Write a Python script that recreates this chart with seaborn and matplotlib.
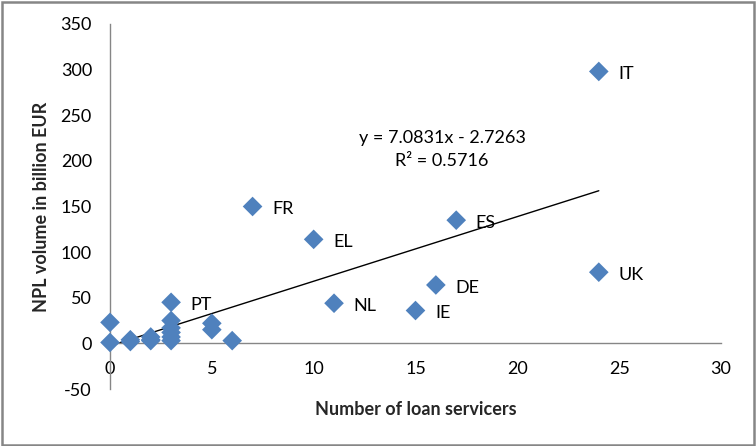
import numpy as np
import pandas as pd
import matplotlib
matplotlib.use("Agg")
import matplotlib.pyplot as plt
import matplotlib.patches as mpatches
import seaborn as sns

# number of loan servicers per country / NPL volume (bn EUR)
servicers = [0, 0, 1, 1, 2, 2, 2, 3, 3, 3, 3, 3, 3, 5, 5, 6,
             7, 10, 11, 15, 16, 17, 24, 24]
npl_volume = [23, 1, 4, 2, 7, 4, 3, 45, 25, 17, 12, 7, 3, 22, 15, 3,
              150, 114, 44, 36, 64, 135, 78, 298]
labels = ["", "", "", "", "", "", "", "PT", "", "", "", "", "", "", "", "",
          "FR", "EL", "NL", "IE", "DE", "ES", "UK", "IT"]

# linear trend shown on the chart
slope = 7.0831
intercept = -2.7263
r_squared = 0.5716
trend_x = [0, 24]

df = pd.DataFrame({"servicers": servicers, "npl": npl_volume, "label": labels})

sns.set_theme(style="white")
plt.rcParams["font.family"] = ["Lato", "DejaVu Sans"]
plt.rcParams["axes.unicode_minus"] = False

fig = plt.figure(figsize=(7.56, 4.46), dpi=100)
ax = fig.add_axes([0.1455, 0.1278, 0.8082, 0.8184])

sns.scatterplot(data=df, x="servicers", y="npl", marker="D", s=100,
                color="#4F81BD", edgecolor="none", ax=ax, clip_on=False,
                zorder=3)

trend_y = [slope * x + intercept for x in trend_x]
ax.plot(trend_x, trend_y, color="black", linewidth=1.0, zorder=2)

for _, row in df.iterrows():
    if row["label"]:
        ax.annotate(row["label"], (row["servicers"], row["npl"]),
                    xytext=(14, -2), textcoords="offset points",
                    ha="left", va="center", fontsize=13, color="black")

ax.text(16.3, 225, f"y = {slope}x - {abs(intercept)}", ha="center",
        va="center", fontsize=13, color="black")
ax.text(16.3, 200, f"R² = {r_squared}", ha="center", va="center",
        fontsize=13, color="black")

ax.set_xlim(0, 30)
ax.set_ylim(-50, 350)
ax.set_xticks(range(0, 31, 5))
ax.set_yticks(range(-50, 351, 50))

for side in ["top", "right"]:
    ax.spines[side].set_visible(False)
ax.spines["bottom"].set_position(("data", 0))
ax.spines["left"].set_position(("data", 0))
for side in ["bottom", "left"]:
    ax.spines[side].set_color("#868686")
    ax.spines[side].set_linewidth(1.0)

ax.tick_params(axis="both", which="both", direction="out", length=4,
               width=1.0, color="#868686", labelsize=13, labelcolor="black")
ax.tick_params(axis="y", pad=9)
ax.tick_params(axis="x", pad=9)

ax.set_xlabel("Number of loan servicers", fontsize=13, fontweight="bold")
ax.set_ylabel("NPL volume in billion EUR", fontsize=13, fontweight="bold")
ax.xaxis.set_label_coords(0.5, -0.032)
ax.yaxis.set_label_coords(-0.098, 0.5)

border = mpatches.Rectangle((0.002, 0.003), 0.995, 0.993, transform=fig.transFigure,
                            fill=False, edgecolor="#868686", linewidth=1.8)
fig.patches.append(border)

fig.savefig("out.png", dpi=100)
